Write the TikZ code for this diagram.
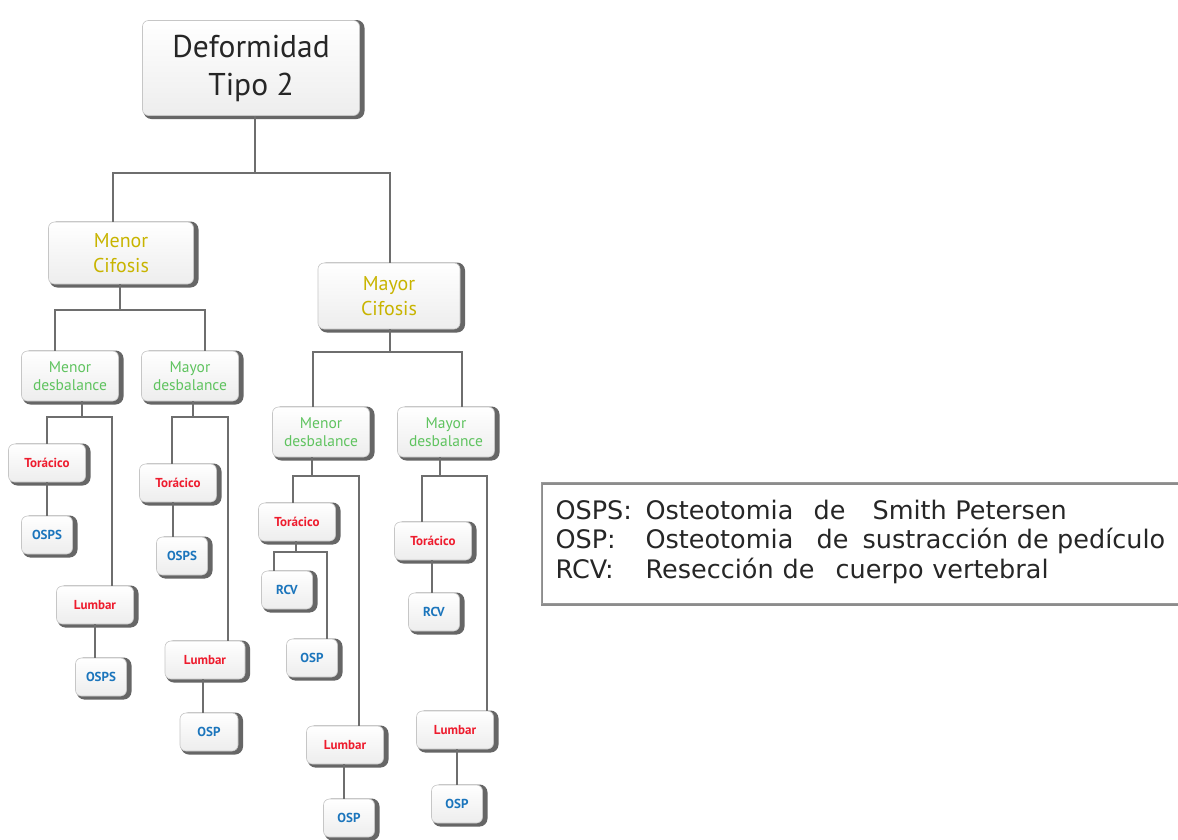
\documentclass[tikz,border=0pt]{standalone}
\usepackage{fontspec}
\setmainfont{PT Sans}
\newfontfamily\legendfont{DejaVu Sans}
\usepackage{xcolor}
\usepackage{tikz}
\usetikzlibrary{positioning}

\definecolor{cifcol}{HTML}{C8B400}
\definecolor{descol}{HTML}{5FC35F}
\definecolor{zonecol}{HTML}{EE1C2E}
\definecolor{techcol}{HTML}{1B75BC}
\definecolor{linkcol}{HTML}{6E6E6E}

\tikzset{
  box/.style={draw=gray!45, line width=0.6pt, rounded corners=6pt,
    top color=white, bottom color=gray!14, inner sep=0pt, align=center,
    preaction={fill=black!60, draw=black!60, line width=4pt,
      transform canvas={xshift=3pt, yshift=-1.5pt}}},
  topbox/.style={box, minimum width=217, minimum height=95,
    font=\fontsize{31.5}{38}\selectfont, text=black!85},
  cifbox/.style={box, minimum width=145, minimum height=62,
    font=\fontsize{20}{25}\selectfont, text=cifcol},
  desbox/.style={box, minimum width=97, minimum height=50,
    font=\fontsize{15.5}{18}\selectfont, text=descol},
  zonebox/.style={box, minimum width=77, minimum height=38,
    font=\fontsize{13}{15}\selectfont\bfseries, text=zonecol},
  techbox/.style={box, minimum width=51, minimum height=38,
    font=\fontsize{13}{15}\selectfont\bfseries, text=techcol},
  link/.style={draw=linkcol, line width=1.4pt},
  legendbox/.style={draw=gray!80, line width=1.2pt, inner xsep=14pt,
    text width=620, minimum height=121, align=left,
    font=\legendfont\fontsize{25.5}{29}\selectfont, text=black!85,
    preaction={draw=black!45, line width=2pt, transform canvas={yshift=-1.5pt}}}
}

\begin{document}
\begin{tikzpicture}[x=1pt, y=-1pt]
  \useasboundingbox[fill=white] (0,0) rectangle (1178,839);

  % top levels
  \node[topbox] (top) at (251,68) {Deformidad\\Tipo 2};
  \node[cifbox] (menC) at (121,253) {Menor\\Cifosis};
  \node[cifbox, minimum width=142, minimum height=66] (mayC) at (389,296) {Mayor\\Cifosis};

  \node[desbox] (mdA) at (70,376) {Menor\\desbalance};
  \node[desbox] (mdB) at (190,376) {Mayor\\desbalance};
  \node[desbox] (mdC) at (321,432) {Menor\\desbalance};
  \node[desbox] (mdD) at (446,432) {Mayor\\desbalance};

  % menor cifosis, menor desbalance
  \node[zonebox] (torA) at (47,463) {Torácico};
  \node[techbox] (osA1) at (47,535) {OSPS};
  \node[zonebox] (lumA) at (95,605) {Lumbar};
  \node[techbox] (osA2) at (101,677) {OSPS};

  % menor cifosis, mayor desbalance
  \node[zonebox] (torB) at (178,483) {Torácico};
  \node[techbox] (osB1) at (182,556) {OSPS};
  \node[zonebox, minimum width=80] (lumB) at (205,660) {Lumbar};
  \node[techbox, minimum width=58] (ospB) at (209,732) {OSP};

  % mayor cifosis, menor desbalance
  \node[zonebox] (torC) at (297,522) {Torácico};
  \node[techbox] (rcvC) at (287,590) {RCV};
  \node[techbox] (ospC) at (312,658) {OSP};
  \node[zonebox] (lumC) at (345,745) {Lumbar};
  \node[techbox] (ospC2) at (349,818) {OSP};

  % mayor cifosis, mayor desbalance
  \node[zonebox] (torD) at (433,541) {Torácico};
  \node[techbox] (rcvD) at (434,612) {RCV};
  \node[zonebox] (lumD) at (455,730) {Lumbar};
  \node[techbox] (ospD) at (457,804) {OSP};

  % legend
  \node[legendbox, anchor=north west] (legend) at (541,482) {%
    \raisebox{8pt}{\begin{tabular}{@{}p{90pt}@{}l@{}}
    OSPS: & \makebox[168pt][l]{Osteotomia}\makebox[59pt][l]{de}Smith Petersen\\
    OSP:  & \makebox[171pt][l]{Osteotomia}\makebox[46pt][l]{de}sustracción de pedículo\\
    RCV:  & \makebox[137pt][l]{Resección}\makebox[53pt][l]{de}cuerpo vertebral
    \end{tabular}}};

  % forks
  \coordinate (j0) at (255,173);
  \coordinate (j1) at (120,310);
  \coordinate (j2) at (390,352);
  \coordinate (jA) at (82,417);
  \coordinate (jB) at (193,417);
  \coordinate (jC) at (312,476);
  \coordinate (jD) at (440,476);
  \coordinate (jT) at (296,552);

  \draw[link] ([xshift=4]top.south) -- (j0);
  \draw[link] ([xshift=-8]menC.north) |- (j0) -| ([xshift=1]mayC.north);

  \draw[link] ([xshift=-1]menC.south) -- (j1);
  \draw[link] ([xshift=-15]mdA.north) |- (j1) -| ([xshift=15]mdB.north);

  \draw[link] ([xshift=1]mayC.south) -- (j2);
  \draw[link] ([xshift=-8]mdC.north) |- (j2) -| ([xshift=16]mdD.north);

  \draw[link] ([xshift=12]mdA.south) -- (jA);
  \draw[link] (torA.north) |- (jA) -| ([xshift=17]lumA.north);
  \draw[link] (torA) -- (osA1);
  \draw[link] (lumA.south) -- ([xshift=-6]osA2.north);

  \draw[link] ([xshift=3]mdB.south) -- (jB);
  \draw[link] ([xshift=-6]torB.north) |- (jB) -| ([xshift=23]lumB.north);
  \draw[link] ([xshift=-5]torB.south) -- ([xshift=-9]osB1.north);
  \draw[link] ([xshift=-2]lumB.south) -- ([xshift=-6]ospB.north);

  \draw[link] ([xshift=-9]mdC.south) -- (jC);
  \draw[link] ([xshift=-4]torC.north) |- (jC) -| ([xshift=14]lumC.north);
  \draw[link] ([xshift=-1]torC.south) -- (jT);
  \draw[link] ([xshift=-13]rcvC.north) |- (jT) -| ([xshift=15]ospC.north);
  \draw[link] ([xshift=-1]lumC.south) -- ([xshift=-5]ospC2.north);

  \draw[link] ([xshift=-6]mdD.south) -- (jD);
  \draw[link] ([xshift=-11]torD.north) |- (jD) -| ([xshift=32]lumD.north);
  \draw[link] ([xshift=-1]torD.south) -- ([xshift=-2]rcvD.north);
  \draw[link] ([xshift=2]lumD.south) -- (ospD.north);
\end{tikzpicture}
\end{document}
